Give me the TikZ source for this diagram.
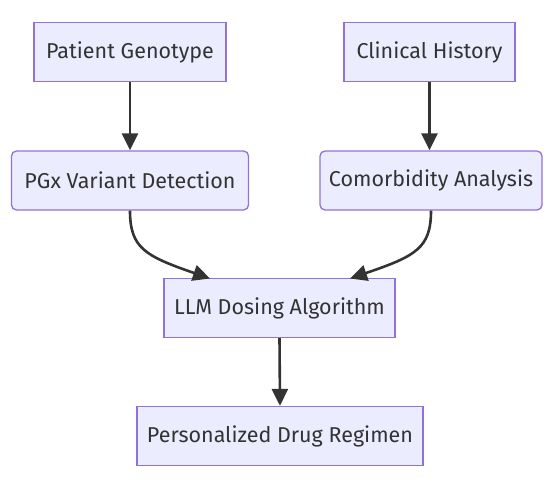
\documentclass[tikz,border=0pt]{standalone}
\usepackage{fontspec}
\setmainfont{Fira Sans}
\usetikzlibrary{arrows.meta}
\definecolor{nodefill}{HTML}{ECECFF}
\definecolor{nodeline}{HTML}{9370DB}
\definecolor{edge}{HTML}{333333}
\definecolor{txt}{HTML}{333333}
\begin{document}
\begin{tikzpicture}[x=1pt,y=-1pt,
  box/.style={draw=nodeline,fill=nodefill,line width=1.3pt,inner sep=0pt,
    minimum height=59pt,text=txt,font=\fontsize{21.5}{25}\selectfont},
  rbox/.style={box,rounded corners=5pt},
  flow/.style={draw=edge,line width=2.6pt,-{Triangle[length=17pt,width=16pt]}}]
\useasboundingbox (0,0) rectangle (559,484);
\node[box,minimum width=192pt] (pg) at (130,52) {Patient Genotype};
\node[box,minimum width=171pt] (ch) at (429.5,52) {Clinical History};
\node[rbox,minimum width=237pt] (pv) at (130,180.5) {PGx Variant Detection};
\node[rbox,minimum width=222pt] (ca) at (431,180.5) {Comorbidity Analysis};
\node[box,minimum width=231pt] (llm) at (279.5,308) {LLM Dosing Algorithm};
\node[box,minimum width=286pt] (pdr) at (280,436) {Personalized Drug Regimen};
\draw[flow] (pg.south) -- (pv.north);
\draw[flow] (ch.south) -- (ca.north -| ch.south);
\draw[flow] (pv.south) .. controls (130,248) and (145,256) .. (210,278.5);
\draw[flow] (ca.south) .. controls (431,248) and (416,256) .. (350,278.5);
\draw[flow] (llm.south) -- (pdr.north);
\end{tikzpicture}
\end{document}
